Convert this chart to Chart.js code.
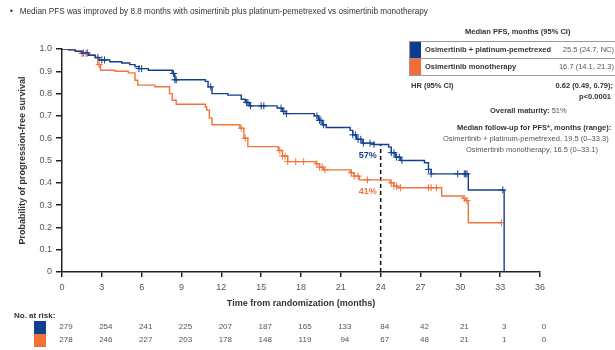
<!DOCTYPE html>
<html>
<head>
<meta charset="utf-8">
<script src="https://cdn.jsdelivr.net/npm/chart.js@4.4.1/dist/chart.umd.min.js"></script>
<style>
  body { margin: 0; background: #fff; }
  #wrap { position: relative; width: 615px; height: 350px; overflow: hidden; font-family: "Liberation Sans Narrow", "Liberation Sans", Arial, sans-serif; color: #333; }
  #headline { position: absolute; left: 10px; top: 5px; font-size: 9.5px; color: #333; white-space: nowrap; transform: scaleX(0.86); transform-origin: left top; }
  .abs { position: absolute; white-space: nowrap; }
  .b { font-weight: bold; }
  #pfsBox { position: absolute; left: 409px; top: 41px; width: 205px; border: 1px solid #999; }
  .row { position: relative; height: 16px; font-size: 7.5px; line-height: 16px; }
  .row + .row { border-top: 1px solid #999; }
  .sw { position: absolute; left: 0; top: 0; width: 11px; height: 100%; }
  .row .lab { position: absolute; left: 15px; font-weight: bold; }
  .row .val { position: absolute; right: 1px; color: #555; }
  .info { font-size: 7.5px; }
</style>
</head>
<body>
<div id="wrap">
  <canvas id="kmChart" width="615" height="350"></canvas>
  <div id="headline">•&nbsp;&nbsp;&nbsp;Median PFS was improved by 8.8 months with osimertinib plus platinum-pemetrexed vs osimertinib monotherapy</div>
  <div class="abs b info" style="left:465px; top:27px;">Median PFS, months (95% CI)</div>
  <div id="pfsBox">
    <div class="row"><div class="sw" style="background:#0d3b8e"></div><span class="lab">Osimertinib + platinum-pemetrexed</span><span class="val">25.5 (24.7, NC)</span></div>
    <div class="row"><div class="sw" style="background:#f26d36"></div><span class="lab">Osimertinib monotherapy</span><span class="val">16.7 (14.1, 21.3)</span></div>
  </div>
  <div class="abs b info" style="left:411px; top:81px;">HR (95% CI)</div>
  <div class="abs b info" style="right:2px; top:81px;">0.62 (0.49, 0.79);</div>
  <div class="abs b info" style="right:4px; top:92px;">p&lt;0.0001</div>
  <div class="abs info" style="left:490px; top:106px;"><span class="b">Overall maturity:</span> <span style="color:#555">51%</span></div>
  <div class="abs b info" style="left:457px; top:123px;">Median follow-up for PFS*, months (range):</div>
  <div class="abs info" style="left:443px; top:134px; color:#555;">Osimertinib + platinum-pemetrexed, 19.5 (0–33.3)</div>
  <div class="abs info" style="left:466px; top:145px; color:#555;">Osimertinib monotherapy, 16.5 (0–33.1)</div>
</div>
<script>
const FONT = '"Liberation Sans Narrow", "Liberation Sans", Arial, sans-serif';

// Kaplan-Meier steps: [month, survival after the step]
const comboSteps = [
  [0, 1.0], [0.5, 0.996], [1.0, 0.99], [1.5, 0.982], [2.0, 0.972], [2.5, 0.962], [2.8, 0.951],
  [3.6, 0.943], [4.5, 0.937], [5.1, 0.93], [5.5, 0.921], [5.8, 0.912], [6.5, 0.905], [8.3, 0.89],
  [8.5, 0.862], [10.8, 0.855], [11.0, 0.83], [11.3, 0.80], [12.5, 0.793], [13.5, 0.775], [13.8, 0.76],
  [14.1, 0.745], [16.2, 0.735], [16.6, 0.72], [16.9, 0.71], [19.0, 0.70], [19.3, 0.68], [19.6, 0.66],
  [19.9, 0.648], [21.7, 0.635], [21.9, 0.615], [22.2, 0.595], [22.6, 0.578], [23.5, 0.572],
  [24.6, 0.56], [24.8, 0.535], [25.1, 0.515], [25.5, 0.50], [27.3, 0.49], [27.6, 0.46], [27.8, 0.44],
  [30.6, 0.368], [33.3, 0.0]
];
const monoSteps = [
  [0, 1.0], [0.5, 0.996], [1.0, 0.99], [1.5, 0.98], [2.0, 0.972], [2.5, 0.96], [2.7, 0.93], [2.9, 0.905],
  [4.0, 0.9], [5.0, 0.893], [5.5, 0.86], [5.7, 0.838], [7.0, 0.831], [8.1, 0.8], [8.3, 0.77], [8.6, 0.752],
  [10.8, 0.74], [10.9, 0.726], [11.1, 0.69], [11.3, 0.66], [13.4, 0.645], [13.7, 0.6], [14.0, 0.562],
  [16.3, 0.545], [16.6, 0.52], [17.0, 0.495], [19.1, 0.485], [19.4, 0.47], [19.7, 0.458], [21.7, 0.445],
  [22.0, 0.43], [22.4, 0.413], [24.7, 0.40], [25.0, 0.385], [25.3, 0.378], [28.6, 0.341], [30.2, 0.33],
  [30.4, 0.32], [30.6, 0.221], [33.1, 0.221]
];

// censoring times (months)
const comboCensored = [1.6, 1.9, 2.7, 3.0, 3.2, 5.8, 6.0, 8.4, 8.5, 8.6, 11.2, 13.9, 14.0, 14.2, 15.0, 15.2,
  16.5, 16.7, 16.9, 19.2, 19.4, 19.5, 19.7, 21.9, 22.1, 22.3, 22.5, 22.7, 23.2, 23.5, 24.8, 25.0, 25.2,
  25.4, 25.6, 27.6, 27.8, 29.8, 30.3, 30.4, 30.5, 33.2];
const monoCensored = [1.5, 1.8, 2.8, 13.5, 13.8, 16.4, 16.6, 16.8, 17.0, 17.6, 18.2, 19.2, 19.4, 19.6, 19.8,
  21.8, 22.0, 22.3, 23.0, 24.8, 25.0, 25.2, 25.5, 27.6, 27.8, 28.2, 30.3, 30.5, 33.1];

const seriesNames = ['Osimertinib + platinum-pemetrexed', 'Osimertinib monotherapy'];
const seriesColors = ['#123f8f', '#f2733a'];

const landmarkMonth = 24;
const landmarkRates = [57, 41];

const riskTimes = [0, 3, 6, 9, 12, 15, 18, 21, 24, 27, 30, 33, 36];
const comboAtRisk = [279, 254, 241, 225, 207, 187, 165, 133, 84, 42, 21, 3, 0];
const monoAtRisk = [278, 246, 227, 203, 178, 148, 119, 94, 67, 48, 21, 1, 0];

function toPoints(steps) {
  return steps.map(s => ({ x: s[0], y: s[1] }));
}

// survival value of the step curve at month t
function valueAt(steps, t) {
  let v = steps[0][1];
  steps.forEach(s => { if (s[0] <= t) v = s[1]; });
  return v;
}

function censorPoints(steps, times) {
  return times.map(t => ({ x: t, y: valueAt(steps, t) }));
}

const extras = {
  id: 'extras',
  afterDraw(chart) {
    const { ctx, scales: { x, y } } = chart;
    ctx.save();
    // landmark labels
    ctx.font = 'bold 9px ' + FONT;
    ctx.textAlign = 'right';
    ctx.textBaseline = 'middle';
    landmarkRates.forEach((r, i) => {
      ctx.fillStyle = seriesColors[i];
      ctx.fillText(r + '%', x.getPixelForValue(landmarkMonth) - 4, y.getPixelForValue(r / 100) + 11);
    });
    // number at risk
    ctx.textAlign = 'left';
    ctx.fillStyle = '#333';
    ctx.font = 'bold 8px ' + FONT;
    ctx.fillText('No. at risk:', 14, 316);
    ctx.font = '8px ' + FONT;
    [comboAtRisk, monoAtRisk].forEach((row, i) => {
      const rowY = 327 + i * 13;
      ctx.fillStyle = seriesColors[i];
      ctx.fillRect(34, rowY - 6, 12, 13);
      ctx.fillStyle = '#555';
      ctx.textAlign = 'center';
      row.forEach((n, j) => ctx.fillText(n, x.getPixelForValue(riskTimes[j]) + 4, rowY));
      ctx.textAlign = 'left';
    });
    ctx.restore();
  }
};

new Chart(document.getElementById('kmChart'), {
  type: 'scatter',
  data: {
    datasets: [
      {
        label: seriesNames[0],
        data: toPoints(comboSteps),
        showLine: true,
        stepped: true,
        borderColor: seriesColors[0],
        borderWidth: 1.4,
        pointRadius: 0,
      },
      {
        label: seriesNames[1],
        data: toPoints(monoSteps),
        showLine: true,
        stepped: true,
        borderColor: seriesColors[1],
        borderWidth: 1.4,
        pointRadius: 0,
      },
      {
        label: 'combo censored',
        data: censorPoints(comboSteps, comboCensored),
        pointStyle: 'cross',
        pointRadius: 3.5,
        borderColor: seriesColors[0],
        borderWidth: 1,
      },
      {
        label: 'mono censored',
        data: censorPoints(monoSteps, monoCensored),
        pointStyle: 'cross',
        pointRadius: 3.5,
        borderColor: seriesColors[1],
        borderWidth: 1,
      },
      {
        label: 'landmark',
        data: [{ x: landmarkMonth, y: 0 }, { x: landmarkMonth, y: landmarkRates[0] / 100 }],
        showLine: true,
        borderColor: '#111',
        borderWidth: 1.5,
        borderDash: [4, 3],
        pointRadius: 0,
      },
    ],
  },
  options: {
    responsive: false,
    animation: false,
    events: [],
    layout: {
      padding: { top: 49, right: 75, bottom: 40, left: 0 },
    },
    plugins: {
      legend: { display: false },
      tooltip: { enabled: false },
    },
    scales: {
      x: {
        type: 'linear',
        min: 0,
        max: 36,
        afterFit: s => { s.height = 38; },
        ticks: { stepSize: 3, color: '#555', font: { family: FONT, size: 9 }, padding: 5 },
        grid: { drawOnChartArea: false, tickLength: 5, color: '#222', lineWidth: 1.5 },
        border: { color: '#222', width: 1.5 },
        title: {
          display: true,
          text: 'Time from randomization (months)',
          color: '#333',
          font: { family: FONT, size: 9, weight: 'bold' },
          padding: { top: 0, bottom: 1 },
        },
      },
      y: {
        min: 0,
        max: 1,
        afterFit: s => { s.width = 62; },
        ticks: {
          stepSize: 0.1,
          color: '#555',
          font: { family: FONT, size: 9 },
          padding: 4,
          callback: v => (v === 0 ? '0' : v.toFixed(1)),
        },
        grid: { drawOnChartArea: false, tickLength: 6, color: '#222', lineWidth: 1.5 },
        border: { color: '#222', width: 1.5 },
        title: {
          display: true,
          text: 'Probability of progression-free survival',
          color: '#333',
          font: { family: FONT, size: 9, weight: 'bold' },
          padding: { top: 17, bottom: 0 },
        },
      },
    },
  },
  plugins: [extras],
});
</script>
</body>
</html>
